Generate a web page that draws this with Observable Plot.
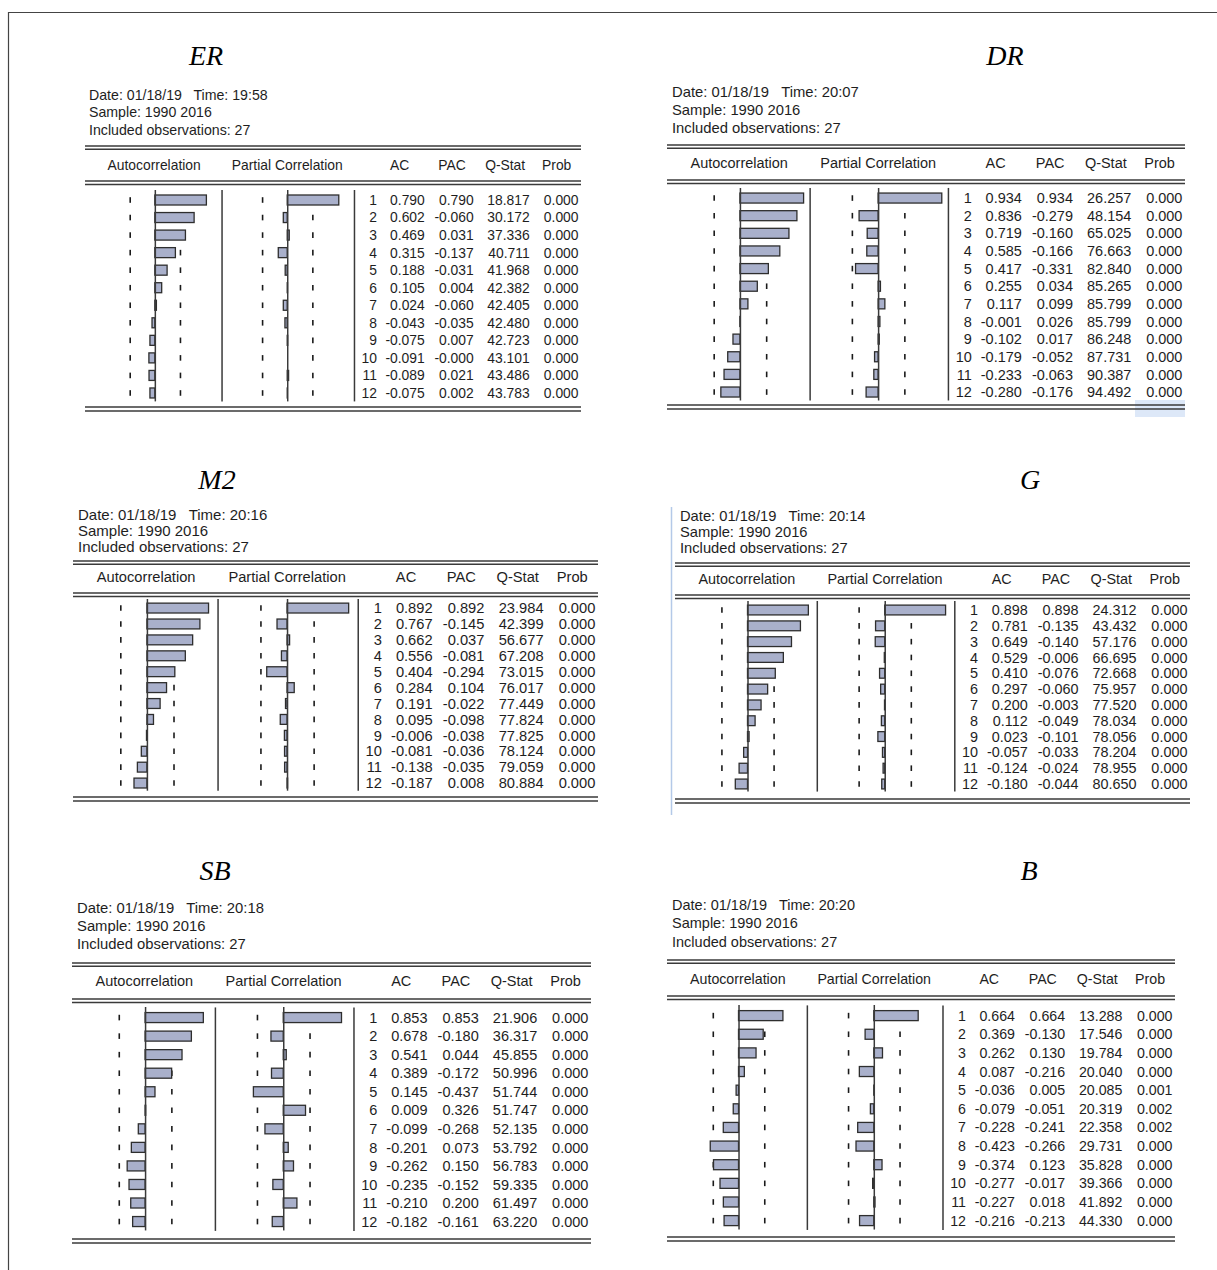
<!DOCTYPE html>
<html><head><meta charset="utf-8">
<script src="https://cdn.jsdelivr.net/npm/d3@7"></script>
<script src="https://cdn.jsdelivr.net/npm/@observablehq/plot@0.6"></script>
<style>
html,body{margin:0;padding:0;background:#fff;}
#page{position:relative;width:1217px;height:1270px;overflow:hidden;background:#fff;}
#page svg{position:absolute;overflow:visible;}
</style></head>
<body><div id="page"></div>
<script>
// ---------------- data ----------------
const lags = [1,2,3,4,5,6,7,8,9,10,11,12];
const panelNames = ["ER","DR","M2","G","SB","B"];
const runTimes = ["19:58","20:07","20:16","20:14","20:18","20:20"];
const runDate = "01/18/19";
const sampleText = "1990 2016";
const nObs = 27;
const colLabels = ["Autocorrelation","Partial Correlation","AC","PAC","Q-Stat","Prob"];
const confBound = 0.385;

const acER   = [0.790,0.602,0.469,0.315,0.188,0.105,0.024,-0.043,-0.075,-0.091,-0.089,-0.075];
const pacER  = [0.790,-0.060,0.031,-0.137,-0.031,0.004,-0.060,-0.035,0.007,-0.000,0.021,0.002];
const qER    = [18.817,30.172,37.336,40.711,41.968,42.382,42.405,42.480,42.723,43.101,43.486,43.783];
const probER = [0,0,0,0,0,0,0,0,0,0,0,0];

const acDR   = [0.934,0.836,0.719,0.585,0.417,0.255,0.117,-0.001,-0.102,-0.179,-0.233,-0.280];
const pacDR  = [0.934,-0.279,-0.160,-0.166,-0.331,0.034,0.099,0.026,0.017,-0.052,-0.063,-0.176];
const qDR    = [26.257,48.154,65.025,76.663,82.840,85.265,85.799,85.799,86.248,87.731,90.387,94.492];
const probDR = [0,0,0,0,0,0,0,0,0,0,0,0];

const acM2   = [0.892,0.767,0.662,0.556,0.404,0.284,0.191,0.095,-0.006,-0.081,-0.138,-0.187];
const pacM2  = [0.892,-0.145,0.037,-0.081,-0.294,0.104,-0.022,-0.098,-0.038,-0.036,-0.035,0.008];
const qM2    = [23.984,42.399,56.677,67.208,73.015,76.017,77.449,77.824,77.825,78.124,79.059,80.884];
const probM2 = [0,0,0,0,0,0,0,0,0,0,0,0];

const acG    = [0.898,0.781,0.649,0.529,0.410,0.297,0.200,0.112,0.023,-0.057,-0.124,-0.180];
const pacG   = [0.898,-0.135,-0.140,-0.006,-0.076,-0.060,-0.003,-0.049,-0.101,-0.033,-0.024,-0.044];
const qG     = [24.312,43.432,57.176,66.695,72.668,75.957,77.520,78.034,78.056,78.204,78.955,80.650];
const probG  = [0,0,0,0,0,0,0,0,0,0,0,0];

const acSB   = [0.853,0.678,0.541,0.389,0.145,0.009,-0.099,-0.201,-0.262,-0.235,-0.210,-0.182];
const pacSB  = [0.853,-0.180,0.044,-0.172,-0.437,0.326,-0.268,0.073,0.150,-0.152,0.200,-0.161];
const qSB    = [21.906,36.317,45.855,50.996,51.744,51.747,52.135,53.792,56.783,59.335,61.497,63.220];
const probSB = [0,0,0,0,0,0,0,0,0,0,0,0];

const acB    = [0.664,0.369,0.262,0.087,-0.036,-0.079,-0.228,-0.423,-0.374,-0.277,-0.227,-0.216];
const pacB   = [0.664,-0.130,0.130,-0.216,0.005,-0.051,-0.241,-0.266,0.123,-0.017,0.018,-0.213];
const qB     = [13.288,17.546,19.784,20.040,20.085,20.319,22.358,29.731,35.828,39.366,41.892,44.330];
const probB  = [0,0,0,0,0.001,0.002,0.002,0,0,0,0,0];

const series = {
  ER:{ac:acER,pac:pacER,q:qER,prob:probER},
  DR:{ac:acDR,pac:pacDR,q:qDR,prob:probDR},
  M2:{ac:acM2,pac:pacM2,q:qM2,prob:probM2},
  G:{ac:acG,pac:pacG,q:qG,prob:probG},
  SB:{ac:acSB,pac:pacSB,q:qSB,prob:probSB},
  B:{ac:acB,pac:pacB,q:qB,prob:probB}
};

// ---------------- layout ----------------
const layout = {
  ER:{L:85,R:581,top:146,hy:165,hd:181,r1:200,r12:393,bot:407,tx:206,ty:55,ix:89,iy:[95,112,130]},
  DR:{L:667,R:1185,top:145,hy:163,hd:180,r1:198,r12:392,bot:405,tx:1005,ty:55,ix:672,iy:[92,110,128]},
  M2:{L:73,R:598,top:561,hy:577,hd:593,r1:608,r12:783,bot:797,tx:217,ty:479,ix:78,iy:[514,530,546]},
  G:{L:675,R:1190,top:563,hy:579,hd:595,r1:610,r12:784,bot:799,tx:1030,ty:479,ix:680,iy:[516,532,548]},
  SB:{L:72,R:591,top:963,hy:981,hd:999,r1:1018,r12:1222,bot:1239,tx:215,ty:870,ix:77,iy:[908,926,944]},
  B:{L:667,R:1175,top:960,hy:979,hd:996,r1:1016,r12:1221,bot:1237,tx:1029,ty:870,ix:672,iy:[905,923,942]}
};
const FR = {acZero:0.1408, sep1:0.2763, pacZero:0.4078, sep2:0.5433};
const textCols = [0.5875,0.684,0.7827,0.8954,0.994];
const headCols = [0.1394,0.4078,0.6344,0.7398,0.8471,0.951];
const kFrac = 0.1316;
const barFill = "#a9b0cb", barStroke = "#2e2e2e", lineCol = "#3a3a3a", txtCol = "#1e1e1e";
const sansFont = "'Liberation Sans', Arial, sans-serif";
const fmt3 = v => ((v < 0 || Object.is(v, -0)) ? "-" : "") + Math.abs(v).toFixed(3);

const page = document.getElementById("page");
const ov = d3.select(page).append("svg").attr("width",1217).attr("height",1270)
  .style("left","0px").style("top","0px");

// outer frame & artifacts
ov.append("rect").attr("x",1135).attr("y",400).attr("width",50).attr("height",17).attr("fill","#dde8f8");
ov.append("line").attr("x1",8).attr("x2",1217).attr("y1",12.5).attr("y2",12.5).attr("stroke","#444").attr("stroke-width",1.2);
ov.append("line").attr("x1",8.5).attr("x2",8.5).attr("y1",12).attr("y2",1270).attr("stroke","#444").attr("stroke-width",1.2);
ov.append("line").attr("x1",671.5).attr("x2",671.5).attr("y1",507).attr("y2",815).attr("stroke","#b4c9e8").attr("stroke-width",1.5);

function place(svg, left, top) {
  svg.style.position = "absolute";
  svg.style.left = left + "px";
  svg.style.top = top + "px";
  svg.style.background = "transparent";
  svg.style.overflow = "visible";
  svg.style.maxWidth = "none";
  page.appendChild(svg);
}

panelNames.forEach((name, pi) => {
  const lay = layout[name], s = series[name];
  const W = lay.R - lay.L;
  const d = (lay.r12 - lay.r1) / 11;
  const vTop = lay.r1 - 0.57 * d, vBot = lay.r12 + 0.48 * d;
  const H = vBot - vTop;
  const fs = 13.9 * W / 497;
  const infoFs = 14.2 * W / 497;
  const k = kFrac * W;
  const X = f => lay.L + f * W;

  // title
  ov.append("text").attr("x",lay.tx).attr("y",lay.ty).attr("text-anchor","middle")
    .attr("dominant-baseline","central").attr("font-family","'Liberation Serif', 'Times New Roman', serif")
    .attr("font-style","italic").attr("font-size",28).attr("fill","#000").text(name);
  // info lines
  const info = [`Date: ${runDate}   Time: ${runTimes[pi]}`, `Sample: ${sampleText}`, `Included observations: ${nObs}`];
  info.forEach((t, i) => ov.append("text").attr("x",lay.ix).attr("y",lay.iy[i])
    .attr("dominant-baseline","central").attr("font-family",sansFont).attr("font-size",infoFs)
    .attr("fill",txtCol).style("white-space","pre").text(t));
  // double lines
  [[lay.top,3.3],[lay.hd,3.5],[lay.bot,4]].forEach(([y,g]) => {
    [y, y+g].forEach(yy => ov.append("line").attr("x1",lay.L).attr("x2",lay.R).attr("y1",yy).attr("y2",yy)
      .attr("stroke",lineCol).attr("stroke-width",1.5));
  });
  // separators
  [FR.sep1, FR.sep2].forEach(f => ov.append("line").attr("x1",X(f)).attr("x2",X(f))
    .attr("y1",vTop).attr("y2",vBot).attr("stroke",lineCol).attr("stroke-width",1.5));
  // column headers
  colLabels.forEach((t, i) => ov.append("text").attr("x",X(headCols[i])).attr("y",lay.hy)
    .attr("text-anchor","middle").attr("dominant-baseline","central").attr("font-family",sansFont)
    .attr("font-size",fs).attr("fill",txtCol).text(t));

  // data rows
  const rows = lags.map((lag, i) => ({lag, ac:s.ac[i], pac:s.pac[i], q:s.q[i], prob:s.prob[i]}));
  const barH = Math.min(10, 0.62 * d);
  const pad = 1 - barH / d;
  const yOpt = {type:"band", domain:lags, range:[lay.r1 - d/2 - vTop, lay.r12 + d/2 - vTop],
    paddingInner:pad, paddingOuter:pad/2, align:0.5, round:false, axis:null};
  const inset = (barH - 5.6) / 2;

  function column(key, leftF, rightF, zeroF) {
    const left = X(leftF), w = (rightF - leftF) * W, z = (zeroF - leftF) * W;
    const svg = Plot.plot({
      width: w, height: H, margin: 0,
      style: {background:"transparent", overflow:"visible"},
      x: {domain:[-z/k, (w - z)/k], range:[0, w], axis:null},
      y: yOpt,
      marks: [
        Plot.tickX(rows, {x: -confBound, y:"lag", stroke:"#1a1a1a", strokeWidth:1.6, insetTop:inset, insetBottom:inset}),
        Plot.tickX(rows, {x: confBound, y:"lag", stroke:"#1a1a1a", strokeWidth:1.6, insetTop:inset, insetBottom:inset}),
        Plot.barX(rows, {x1:0, x2:key, y:"lag", fill:barFill, stroke:barStroke, strokeWidth:1.3}),
        Plot.ruleX([0], {stroke:lineCol, strokeWidth:1.5})
      ]
    });
    place(svg, left, vTop);
  }
  column("ac", 0, FR.sep1, FR.acZero);
  column("pac", FR.sep1, FR.sep2, FR.pacZero);

  const tOpt = {y:"lag", textAnchor:"end", fontSize:fs, fontFamily:sansFont, fill:txtCol};
  const tsvg = Plot.plot({
    width: W, height: H, margin: 0,
    style: {background:"transparent", overflow:"visible"},
    x: {domain:[0,1], range:[0,W], axis:null},
    y: yOpt,
    marks: [
      Plot.text(rows, {...tOpt, x:textCols[0], text: r => String(r.lag)}),
      Plot.text(rows, {...tOpt, x:textCols[1], text: r => fmt3(r.ac)}),
      Plot.text(rows, {...tOpt, x:textCols[2], text: r => fmt3(r.pac)}),
      Plot.text(rows, {...tOpt, x:textCols[3], text: r => fmt3(r.q)}),
      Plot.text(rows, {...tOpt, x:textCols[4], text: r => fmt3(r.prob)})
    ]
  });
  place(tsvg, lay.L, vTop);
});
</script>
</body></html>
